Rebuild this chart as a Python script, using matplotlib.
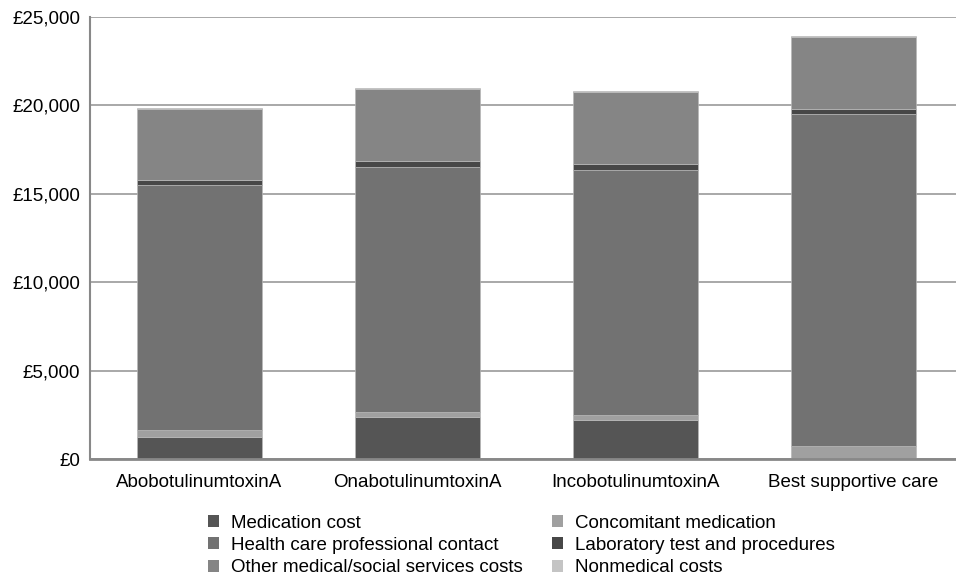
import numpy as np
import matplotlib
matplotlib.use('Agg')
from matplotlib import pyplot as plt
from matplotlib.ticker import FuncFormatter
from matplotlib.patches import Patch

plt.rcParams['font.family'] = ['Liberation Sans', 'DejaVu Sans']

treatments = ['AbobotulinumtoxinA', 'OnabotulinumtoxinA',
              'IncobotulinumtoxinA', 'Best supportive care']

# cost components, GBP per patient
medication = [1280, 2410, 2240, 0]
concomitant = [380, 265, 265, 750]
hcpContact = [13820, 13860, 13840, 18780]
labTests = [300, 300, 320, 245]
otherServices = [4000, 4055, 4090, 4055]
nonmedical = [60, 60, 60, 60]

yTicks = [0, 5000, 10000, 15000, 20000, 25000]

# stacking order bottom -> top
segments = [
    ('Medication cost', medication, '#555555'),
    ('Concomitant medication', concomitant, '#a0a0a0'),
    ('Health care professional contact', hcpContact, '#727272'),
    ('Laboratory test and procedures', labTests, '#474747'),
    ('Other medical/social services costs', otherServices, '#858585'),
    ('Nonmedical costs', nonmedical, '#c4c4c4'),
]

fs = 13.5

fig = plt.figure(figsize=(9.56, 5.78), dpi=100)
ax = fig.add_axes([90/956, 1 - 459.3/578, 1 - 90/956, (459.3 - 16.7)/578])

x = np.arange(len(treatments))
bottom = np.zeros(len(treatments))
handles = {}
for name, vals, col in segments:
    vals = np.array(vals, dtype=float)
    ax.bar(x, vals, width=0.573, bottom=bottom, color=col,
           edgecolor='#b8b8b8', linewidth=0.5, zorder=3)
    bottom += vals
    handles[name] = Patch(facecolor=col, edgecolor='none', label=name)

ax.set_xlim(-0.5, 3.47)
ax.set_ylim(0, 25000)
ax.set_yticks(yTicks)
ax.yaxis.set_major_formatter(FuncFormatter(lambda v, p: '£{:,.0f}'.format(v)))
ax.set_xticks(x)
ax.set_xticklabels(treatments)
ax.tick_params(axis='both', length=0, labelsize=fs, colors='#000000')
ax.tick_params(axis='y', pad=7)
ax.tick_params(axis='x', pad=10.5)

ax.grid(axis='y', color='#999999', linewidth=1.2, zorder=0)
for s in ['top', 'right']:
    ax.spines[s].set_visible(False)
ax.spines['left'].set_color('#888888')
ax.spines['left'].set_linewidth(1.5)
ax.spines['bottom'].set_color('#888888')
ax.spines['bottom'].set_linewidth(2)
ax.spines['bottom'].set_zorder(4)

order = ['Medication cost', 'Health care professional contact',
         'Other medical/social services costs', 'Concomitant medication',
         'Laboratory test and procedures', 'Nonmedical costs']
fig.legend(handles=[handles[k] for k in order], ncol=2, frameon=False,
           loc='upper left', bbox_to_anchor=(208/956, 1 - 514.5/578),
           fontsize=fs, borderpad=0, borderaxespad=0,
           handlelength=0.6, handleheight=0.6, handletextpad=0.64,
           columnspacing=1.55, labelspacing=0.29)

fig.savefig('out.png', dpi=100)
